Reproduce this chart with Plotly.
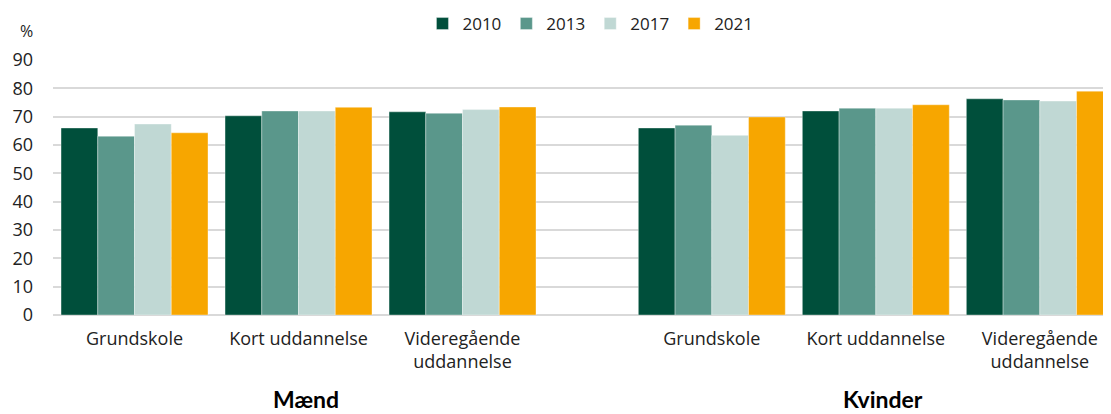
import plotly.graph_objects as go

years = ["2010", "2013", "2017", "2021"]
categories = ["Grundskole", "Kort uddannelse", "Videregående<br>uddannelse"]
groups = ["Mænd", "Kvinder"]
positions = [0, 1, 2, 3.52, 4.52, 5.52]

# values per year: Mænd (3 categories) then Kvinder (3 categories)
v2010 = [66.0, 70.3, 71.7, 66.0, 72.0, 76.3]
v2013 = [63.1, 72.0, 71.2, 67.0, 73.0, 75.9]
v2017 = [67.4, 72.0, 72.5, 63.4, 73.0, 75.5]
v2021 = [64.3, 73.3, 73.4, 69.9, 74.2, 79.0]
series = [v2010, v2013, v2017, v2021]
colors = ["#004F3B", "#5A978B", "#C0D8D4", "#F7A600"]

y_ticks = [0, 10, 20, 30, 40, 50, 60, 70, 80, 90]

fig = go.Figure()
for name, vals, col in zip(years, series, colors):
    fig.add_trace(go.Bar(
        x=positions, y=vals, name=name,
        marker=dict(color=col, line=dict(color="rgba(255,255,255,0.6)", width=0.6)),
    ))

font_family = "'Open Sans', Lato, sans-serif"
PH = 255.0  # plot height in px

# the page body adds an 8px margin, so the figure is drawn 8px smaller
fig.update_layout(
    width=1103, height=406,
    margin=dict(l=45, r=0, t=52, b=99, autoexpand=False),
    barmode="group", bargap=0.104, bargroupgap=0,
    plot_bgcolor="white", paper_bgcolor="white",
    font=dict(family=font_family, size=17, color="#222222"),
    showlegend=True,
    legend=dict(orientation="h", x=0.508, xanchor="center", y=1 + 36 / PH, yanchor="middle",
                font=dict(size=17, color="#222222"), itemwidth=30,
                traceorder="normal"),
    xaxis=dict(
        range=[-0.497, 5.954], tickmode="array",
        tickvals=positions, ticktext=categories + categories,
        showgrid=False, zeroline=False, showline=False, ticks="",
        tickfont=dict(size=18, color="#222222"), ticklabelstandoff=11,
    ),
    yaxis=dict(
        range=[0, 90], tickmode="array", tickvals=y_ticks,
        showgrid=True, gridcolor="#D9D9D9", gridwidth=1.5,
        zeroline=True, zerolinecolor="#D9D9D9", zerolinewidth=1.5,
        ticks="", tickfont=dict(size=18, color="#222222"), ticklabelstandoff=19,
    ),
)

fig.add_annotation(text="%", xref="paper", yref="paper", x=-0.0246, y=1 + 29 / PH,
                   xanchor="center", yanchor="middle", showarrow=False,
                   font=dict(size=16, color="#222222"))

group_centers = [sum(positions[0:3]) / 3, sum(positions[3:6]) / 3]
for g, c in zip(groups, group_centers):
    fig.add_annotation(text="<b>%s</b>" % g, x=c + 0.045, xref="x", yref="paper",
                       y=-99 / PH, xanchor="center", yanchor="bottom", showarrow=False,
                       borderpad=0,
                       font=dict(size=23, color="#000000", family="Lato, sans-serif", weight=900))

fig.write_html("out.html")
